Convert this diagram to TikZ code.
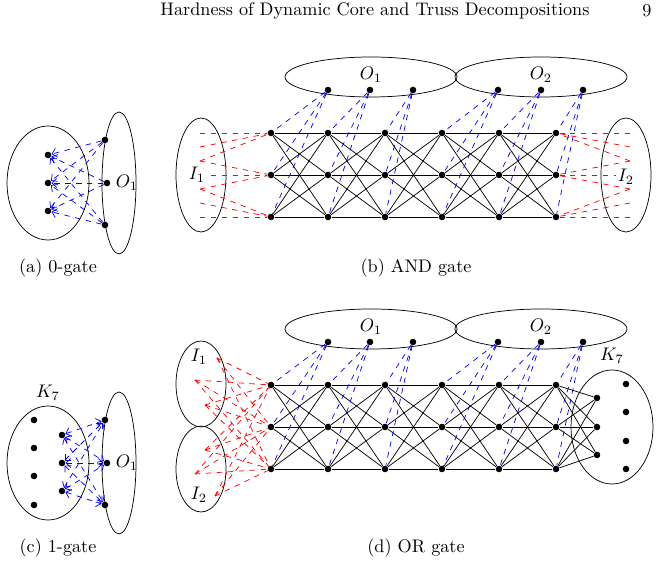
\documentclass[tikz,border=0pt]{standalone}
\usetikzlibrary{arrows.meta}
\begin{document}
\begin{tikzpicture}[x=0.55pt,y=-0.55pt,
    dot/.style={circle,fill,inner sep=0pt,minimum size=3.6pt},
    bl/.style={blue,dashed},
    rd/.style={red,dashed},
    tip/.style={-{Straight Barb[length=2.5pt]}},
    tips/.style={{Straight Barb[length=2.5pt]}-{Straight Barb[length=2.5pt]}}]
\useasboundingbox (0,0) rectangle (663,573);
\node (head) at (375,11) {Hardness of Dynamic Core and Truss Decompositions};
\node (page) at (647,11) {9};

% grids of (b) and (d)
\foreach \g/\dy in {a/0,o/252}{
  \foreach \c in {1,...,6}
    \foreach \r in {1,2,3}
      \node[dot] (\g\c\r) at ({271+57*(\c-1)},{133+\dy+42*(\r-1)}) {};
  \foreach \c [evaluate=\c as \n using int(\c+1)] in {1,...,5}
    \foreach \r in {1,2,3}
      \foreach \s in {1,2,3}
        \draw (\g\c\r) -- (\g\n\s);
  \draw (371,{77+\dy}) ellipse [x radius=86,y radius=20];
  \draw (541,{77+\dy}) ellipse [x radius=86,y radius=20];
  \node (\g O1) at (371,{75+\dy}) {$O_1$};
  \node (\g O2) at (541,{75+\dy}) {$O_2$};
  \foreach \k/\x in {1/328,2/370,3/413,4/498,5/541,6/583}{
    \node[dot] (\g o\k) at (\x,{90+\dy}) {};
    \foreach \r in {1,2,3}
      \draw[bl] (\g o\k) -- (\g\k\r);
  }
}

% (b) AND gate inputs
\draw (201,175) ellipse [x radius=25,y radius=57];
\draw (626,175) ellipse [x radius=25,y radius=57];
\foreach \r in {1,2,3}
  \foreach \k in {0,1,2}{
    \coordinate (l\r\k) at (200,{133+42*(\r-1)+14*(\k+1-\r)});
    \coordinate (q\r\k) at (630,{133+42*(\r-1)+14*(\k+1-\r)});
    \draw[rd] (l\r\k) -- (a1\r);
    \draw[rd] (q\r\k) -- (a6\r);
  }
\node[fill=white,inner sep=1pt] (I1) at (197,175) {$I_1$};
\node[fill=white,inner sep=1pt] (I2) at (626,177) {$I_2$};

% (d) OR gate inputs
\draw (201,384) ellipse [x radius=25,y radius=43];
\draw (201,469) ellipse [x radius=25,y radius=43];
\node (J1) at (199,357) {$I_1$};
\node (J2) at (199,495) {$I_2$};
\foreach \i/\x/\y in {1/217/358,2/195/380,3/205/405,4/205/450,5/195/474,6/215/496}{
  \coordinate (m\i) at (\x,\y);
  \foreach \r in {1,2,3}
    \draw[rd] (m\i) -- (o1\r);
}
% (d) K7
\draw (612,427) ellipse [x radius=41,y radius=57];
\node (K7d) at (612,356) {$K_7$};
\foreach \r/\y in {1/398,2/427,3/455}{
  \node[dot] (ki\r) at (597,\y) {};
  \foreach \s in {1,2,3}
    \draw (o6\s) -- (ki\r);
}
\foreach \y in {384,412,441,469}
  \node[dot] at (626,\y) {};

% (a) 0-gate
\draw (48,183) ellipse [x radius=41,y radius=57];
\draw (119,183) ellipse [x radius=17,y radius=71];
\node (O1a) at (127,183) {$O_1$};
\foreach \r/\y in {1/155,2/183,3/211}
  \node[dot] (z\r) at (48,\y) {};
\foreach \r/\x/\y in {1/105/140,2/107/183,3/105/225}{
  \node[dot] (zo\r) at (\x,\y) {};
  \foreach \s in {1,2,3}
    \draw[bl,tip] (zo\r) -- (z\s);
}

% (c) 1-gate
\draw (48,463) ellipse [x radius=41,y radius=57];
\draw (119,463) ellipse [x radius=17,y radius=71];
\node (K7c) at (48,393) {$K_7$};
\node (O1c) at (127,463) {$O_1$};
\foreach \y in {420,448,476,505}
  \node[dot] at (34,\y) {};
\foreach \r/\y in {1/435,2/463,3/491}
  \node[dot] (w\r) at (62,\y) {};
\foreach \r/\x/\y in {1/105/420,2/107/463,3/105/505}{
  \node[dot] (wo\r) at (\x,\y) {};
  \foreach \s in {1,2,3}
    \draw[bl,tips] (w\s) -- (wo\r);
}

% captions
\node (capa) at (58,268) {(a) 0-gate};
\node (capb) at (416,268) {(b) AND gate};
\node (capc) at (58,548) {(c) 1-gate};
\node (capd) at (416,548) {(d) OR gate};
\end{tikzpicture}
\end{document}
